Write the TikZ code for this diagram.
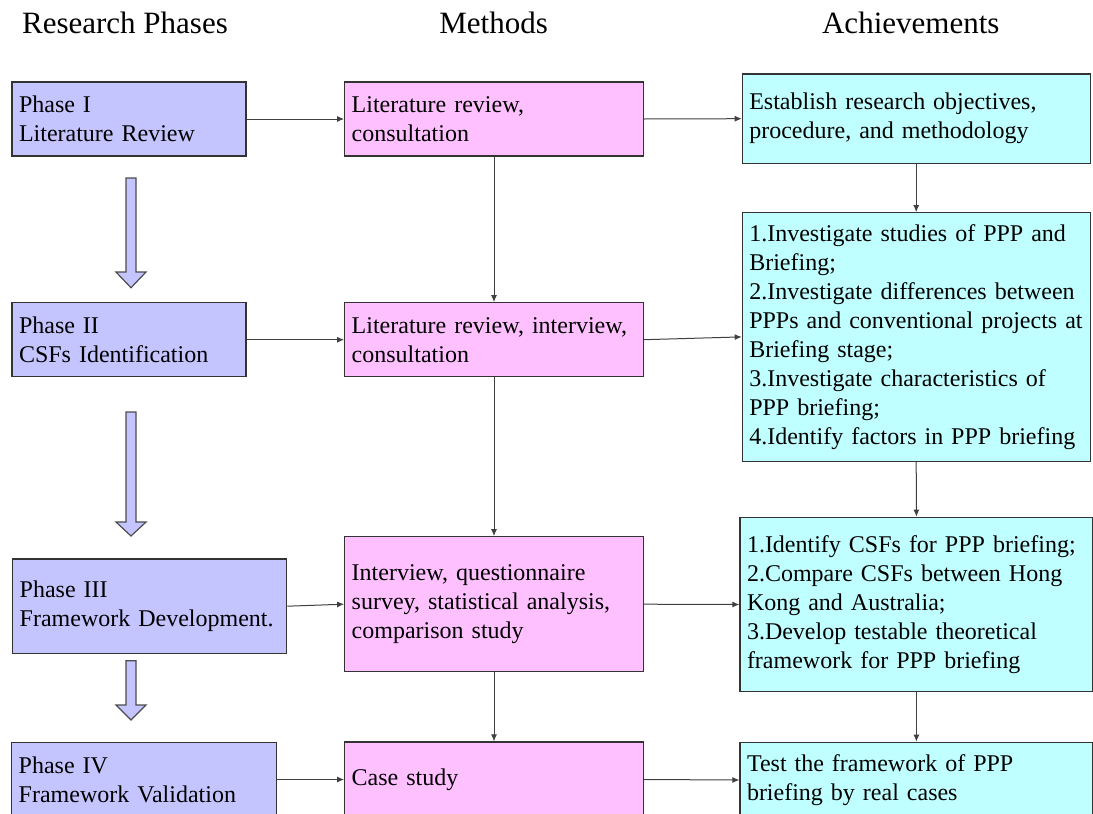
\documentclass[tikz,border=0pt]{standalone}
\usepackage{fontspec}
\setmainfont{Liberation Serif}
\usepackage{tikz}
\usetikzlibrary{arrows.meta}
\usetikzlibrary{positioning}
\definecolor{phasefill}{HTML}{C4C4FF}
\definecolor{methodfill}{HTML}{FFC0FF}
\definecolor{resultfill}{HTML}{C0FFFF}
\tikzset{box/.style = {draw=black!80, line width=0.6pt, inner xsep=3.5pt, inner ysep=0pt,
                       align=left, font=\fontsize{12}{14.5}\selectfont}}
\tikzset{phase/.style = {box, fill=phasefill}}
\tikzset{method/.style = {box, fill=methodfill, text width=142.3pt}}
\tikzset{result/.style = {box, fill=resultfill}}
\tikzset{link/.style = {draw=black!75, line width=0.5pt, -{Latex[length=3.5pt,width=3pt]}}}
\tikzset{fatarrow/.style = {draw=black!70, line width=0.6pt, fill=phasefill}}
\tikzset{colhead/.style = {font=\fontsize{15.5}{18}\selectfont, inner sep=0, anchor=base west}}

\begin{document}
\begin{tikzpicture}[x=0.5pt, y=-0.5pt]
    \fill [white] (0, 0) rectangle (1093, 814);
    \useasboundingbox (0, 0) rectangle (1093, 814);
    % column titles
    \node [colhead] (hphase) at (21.7, 33.3) {Research Phases};
    \node [colhead] (hmethod) at (439, 33.3) {Methods};
    \node [colhead] (hresult) at (821.7, 33.3) {Achievements};
    % phases
    \node [phase, text width=110pt, minimum height=37pt] (ph1) at (129, 119) {Phase I\\Literature Review};
    \node [phase, text width=110pt, minimum height=37pt] (ph2) at (129, 339.7) {Phase II\\CSFs Identification};
    \node [phase, text width=130pt, minimum height=47.2pt] (ph3) at (149.7, 606.2) {Phase III\\Framework Development.};
    \node [phase, text width=125.5pt, minimum height=37.2pt] (ph4) at (144.2, 779.5) {Phase IV\\Framework Validation};
    % methods
    \node [method, minimum height=37pt] (me1) at (494, 119) {Literature review,\\consultation};
    \node [method, minimum height=37pt] (me2) at (494, 339.7) {Literature review, interview,\\consultation};
    \node [method, minimum height=67.5pt] (me3) at (494, 604.2) {Interview, questionnaire\\survey, statistical analysis,\\comparison study};
    \node [method, minimum height=37.5pt] (me4) at (494, 779.5) {Case study};
    % achievements
    \node [result, text width=166.9pt, minimum height=44.7pt] (ac1) at (916.2, 118.7)
        {Establish research objectives,\\procedure, and methodology};
    \node [result, text width=166.9pt, minimum height=124.2pt] (ac2) at (916.2, 336.9)
        {1.Investigate studies of PPP and\\Briefing;\\2.Investigate differences between\\PPPs and conventional projects at\\Briefing stage;\\3.Investigate characteristics of\\PPP briefing;\\4.Identify factors in PPP briefing};
    \node [result, text width=169.4pt, minimum height=87.2pt] (ac3) at (916.4, 604.5)
        {1.Identify CSFs for PPP briefing;\\2.Compare CSFs between Hong\\Kong and Australia;\\3.Develop testable theoretical\\framework for PPP briefing};
    \node [result, text width=169.4pt, minimum height=37.7pt] (ac4) at (916.4, 780)
        {Test the framework of PPP\\briefing by real cases};
    % block arrows between phases
    \draw [fatarrow] (126, 178) -- (136, 178) -- (136, 272) -- (146, 272) -- (131, 287.7)
        -- (116, 272) -- (126, 272) -- cycle;
    \draw [fatarrow] (126, 412) -- (136, 412) -- (136, 522) -- (146, 522) -- (131, 536)
        -- (116, 522) -- (126, 522) -- cycle;
    \draw [fatarrow] (126, 660.7) -- (136, 660.7) -- (136, 705) -- (146, 705) -- (131, 720)
        -- (116, 705) -- (126, 705) -- cycle;
    % links
    \draw [link] (ph1.east) -- (me1.west);
    \draw [link] (ph2.east) -- (me2.west);
    \draw [link] (ph3.east) -- (me3.west);
    \draw [link] (ph4.east) -- (me4.west);
    \draw [link] (me1.east) -- (ac1.west);
    \draw [link] (me2.east) -- (ac2.west);
    \draw [link] (me3.east) -- (ac3.west);
    \draw [link] (me4.east) -- (ac4.west);
    \draw [link] (me1.south) -- (me2.north);
    \draw [link] (me2.south) -- (me3.north);
    \draw [link] (me3.south) -- (me4.north);
    \draw [link] (ac1.south) -- (ac2.north);
    \draw [link] (ac2.south) -- (ac3.north);
    \draw [link] (ac3.south) -- (ac4.north);
  \end{tikzpicture}
\end{document}
